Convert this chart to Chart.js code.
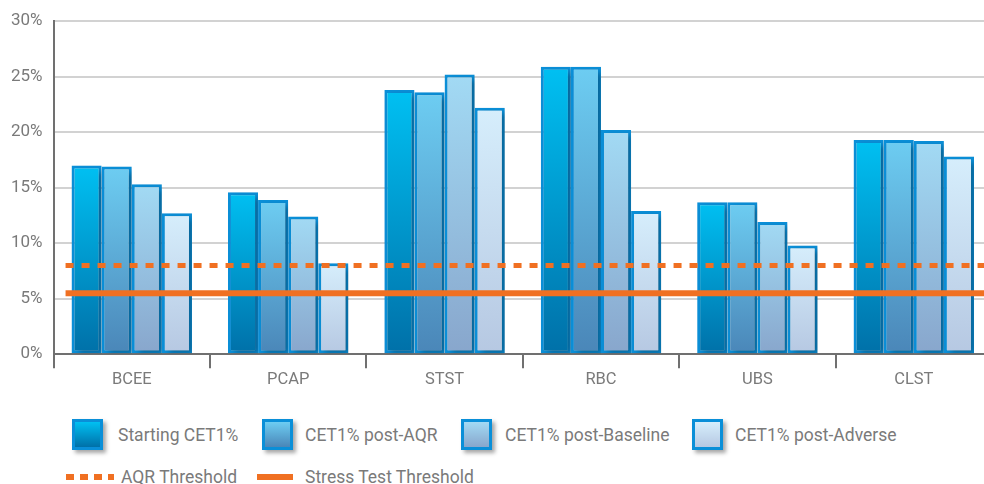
<!DOCTYPE html>
<html lang="en">
<head>
    <meta charset="UTF-8">
    <title>CET1% by bank</title>
    <script src="https://cdn.jsdelivr.net/npm/chart.js@4.4.1/dist/chart.umd.min.js"></script>
    <style>
        html, body { margin: 0; padding: 0; background: #fff; overflow: hidden; width: 984px; height: 484px; }
        #wrap { position: absolute; left: 0; top: 0; width: 992px; height: 392px; }
        .legend { position: absolute; font-family: Roboto, "Open Sans", sans-serif; font-size: 17.5px; color: #7a7a7a; }
        .item { position: absolute; white-space: nowrap; line-height: 20px; }
        .box { position: absolute; width: 25px; height: 25px; border: 3px solid #0a8fd8; box-shadow: 3px 3px 4px rgba(0,0,0,0.35); }
        .dash { position: absolute; height: 6px; }
    </style>
</head>
<body>
    <div id="wrap"><canvas id="cetChart"></canvas></div>
    <div class="legend" id="legend"></div>

    <script>
        // data
        const banks = ['BCEE', 'PCAP', 'STST', 'RBC', 'UBS', 'CLST'];
        const startingCet1 = [17.0, 14.6, 23.8, 25.9, 13.7, 19.3];
        const postAqr      = [16.9, 13.9, 23.6, 25.9, 13.7, 19.3];
        const postBaseline = [15.3, 12.4, 25.2, 20.2, 11.9, 19.2];
        const postAdverse  = [12.7,  8.2, 22.2, 12.9,  9.8, 17.8];
        const aqrThreshold = 8.0;
        const stressThreshold = 5.5;
        const yTicks = [0, 5, 10, 15, 20, 25, 30];

        const seriesNames = ['Starting CET1%', 'CET1% post-AQR', 'CET1% post-Baseline', 'CET1% post-Adverse'];
        const seriesColors = [
            ['#00c0f2', '#0070a8'],
            ['#6dcdf2', '#4a86b8'],
            ['#a2daf4', '#88a6cc'],
            ['#d6eefc', '#b6c8e2']
        ];

        function barGradient(idx) {
            return function (c) {
                const chart = c.chart;
                const area = chart.chartArea;
                if (!area || c.parsed === undefined) return seriesColors[idx][0];
                const top = chart.scales.y.getPixelForValue(c.parsed.y);
                const g = chart.ctx.createLinearGradient(0, top, 0, area.bottom);
                g.addColorStop(0, seriesColors[idx][0]);
                g.addColorStop(1, seriesColors[idx][1]);
                return g;
            };
        }

        const allSeries = [startingCet1, postAqr, postBaseline, postAdverse];
        const datasets = allSeries.map((vals, i) => ({
            label: seriesNames[i],
            data: vals,
            backgroundColor: barGradient(i),
            borderColor: '#0a8fd8',
            borderWidth: 3,
            borderSkipped: false,
            barPercentage: 1.0,
            categoryPercentage: 0.77
        }));

        // soft shadow under bars
        const shadowPlugin = {
            id: 'barShadow',
            beforeDatasetsDraw(chart) {
                const ctx = chart.ctx;
                ctx.save();
                ctx.shadowColor = 'rgba(0,0,0,0.3)';
                ctx.shadowBlur = 6;
                ctx.shadowOffsetX = 4;
                ctx.shadowOffsetY = 3;
            },
            afterDatasetsDraw(chart) {
                chart.ctx.restore();
            }
        };

        // threshold lines drawn through the y scale
        const thresholdPlugin = {
            id: 'thresholds',
            afterDatasetsDraw(chart) {
                const ctx = chart.ctx;
                const area = chart.chartArea;
                const y = chart.scales.y;
                ctx.save();
                ctx.strokeStyle = '#f07022';
                ctx.lineWidth = 5;
                ctx.setLineDash([8, 8]);
                ctx.beginPath();
                ctx.moveTo(area.left + 12, y.getPixelForValue(aqrThreshold));
                ctx.lineTo(area.right, y.getPixelForValue(aqrThreshold));
                ctx.stroke();
                ctx.setLineDash([]);
                ctx.lineWidth = 6;
                ctx.beginPath();
                ctx.moveTo(area.left + 12, y.getPixelForValue(stressThreshold));
                ctx.lineTo(area.right, y.getPixelForValue(stressThreshold));
                ctx.stroke();
                ctx.restore();
            }
        };

        const ctx = document.getElementById('cetChart').getContext('2d');
        const cetChart = new Chart(ctx, {
            type: 'bar',
            data: { labels: banks, datasets: datasets },
            plugins: [shadowPlugin, thresholdPlugin],
            options: {
                responsive: true,
                maintainAspectRatio: false,
                animation: false,
                layout: { padding: { top: 14, right: 0, left: 0, bottom: 0 } },
                plugins: { legend: { display: false }, tooltip: { enabled: false } },
                scales: {
                    x: {
                        grid: { offset: true, drawOnChartArea: false, color: '#707070', lineWidth: 2, tickLength: 14 },
                        border: { color: '#707070', width: 2 },
                        ticks: { color: '#7a7a7a', font: { family: 'Roboto', size: 16.5 }, padding: 2 }
                    },
                    y: {
                        min: 0,
                        max: 30,
                        afterBuildTicks(scale) { scale.ticks = yTicks.map(v => ({ value: v })); },
                        grid: { color: '#d2d2d2', lineWidth: 2, drawTicks: false },
                        border: { color: '#707070', width: 2 },
                        ticks: {
                            color: '#7a7a7a',
                            font: { family: 'Roboto', size: 17 },
                            padding: 11,
                            callback: v => v + '%'
                        }
                    }
                }
            }
        });

        // legend in two rows like the reference
        const legend = document.getElementById('legend');
        const boxX = [72, 262, 461, 692];
        const textX = [118, 305, 505, 735];
        seriesNames.forEach((name, i) => {
            const b = document.createElement('div');
            b.className = 'box';
            b.style.left = boxX[i] + 'px';
            b.style.top = '419px';
            b.style.background = 'linear-gradient(' + seriesColors[i][0] + ',' + seriesColors[i][1] + ')';
            legend.appendChild(b);
            const t = document.createElement('div');
            t.className = 'item';
            t.style.left = textX[i] + 'px';
            t.style.top = '425px';
            t.textContent = name;
            legend.appendChild(t);
        });
        const d1 = document.createElement('div');
        d1.className = 'dash';
        d1.style.left = '66px'; d1.style.top = '474px'; d1.style.width = '48px';
        d1.style.background = 'repeating-linear-gradient(90deg, #f07022 0 8px, transparent 8px 14px)';
        legend.appendChild(d1);
        const t1 = document.createElement('div');
        t1.className = 'item'; t1.style.left = '121px'; t1.style.top = '467px';
        t1.textContent = 'AQR Threshold';
        legend.appendChild(t1);
        const d2 = document.createElement('div');
        d2.className = 'dash';
        d2.style.left = '257px'; d2.style.top = '474px'; d2.style.width = '36px';
        d2.style.background = '#f07022';
        legend.appendChild(d2);
        const t2 = document.createElement('div');
        t2.className = 'item'; t2.style.left = '305px'; t2.style.top = '467px';
        t2.textContent = 'Stress Test Threshold';
        legend.appendChild(t2);
    </script>
</body>
</html>
